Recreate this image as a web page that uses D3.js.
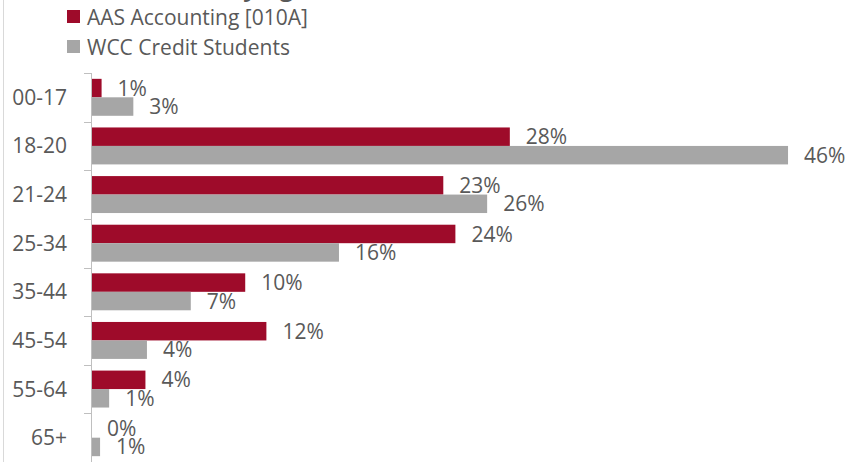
<!DOCTYPE html>
<html>
<head>
<meta charset="utf-8">
<script src="https://cdn.jsdelivr.net/npm/d3@7"></script>
<style>
  html, body { margin: 0; padding: 0; background: #fff; }
  svg { display: block; }
  text { font-family: "Open Sans", sans-serif; fill: #595959; }
</style>
</head>
<body>
<svg id="chart" width="856" height="462"></svg>
<script>
const categories = ["00-17", "18-20", "21-24", "25-34", "35-44", "45-54", "55-64", "65+"];
const seriesNames = ["AAS Accounting [010A]", "WCC Credit Students"];
const aasValues = [0.7, 27.7, 23.3, 24.1, 10.2, 11.6, 3.6, 0];
const wccValues = [2.8, 46.1, 26.2, 16.4, 6.6, 3.7, 1.2, 0.6];
const colors = ["#9E0B2A", "#A6A6A6"];
const titleText = "Students by Age";

const svg = d3.select("#chart");
const W = 856, H = 462;
const FS = "21px";

// outer chart border (left edge visible)
svg.append("line").attr("x1", 3.5).attr("x2", 3.5).attr("y1", 0).attr("y2", H)
  .attr("stroke", "#d9d9d9").attr("stroke-width", 1);

// clipped title (only descenders visible)
svg.append("text").attr("x", 115).attr("y", -4)
  .style("font-size", "24px").style("font-weight", "bold").style("fill", "#595959")
  .text(titleText);

const y = d3.scaleBand().domain(categories).range([73, 462]).paddingInner(0.24).paddingOuter(0.12);
const sub = d3.scaleBand().domain([0, 1]).range([0, y.bandwidth()]);
const x = d3.scaleLinear().domain([0, 50]).range([91, 847]);

const data = categories.map((c, i) => ({ cat: c, vals: [aasValues[i], wccValues[i]] }));

const groups = svg.append("g").selectAll("g").data(data).join("g")
  .attr("transform", d => `translate(0,${y(d.cat)})`);

groups.selectAll("rect").data(d => d.vals.map((v, k) => ({ v, k }))).join("rect")
  .attr("x", x(0))
  .attr("y", d => sub(d.k))
  .attr("width", d => x(d.v) - x(0))
  .attr("height", sub.bandwidth())
  .attr("fill", d => colors[d.k]);

groups.selectAll("text.lbl").data(d => d.vals.map((v, k) => ({ v, k }))).join("text")
  .attr("class", "lbl")
  .attr("x", d => x(d.v) + 16)
  .attr("y", d => sub(d.k) + sub.bandwidth() / 2)
  .attr("dy", "0.36em")
  .style("font-size", FS)
  .text(d => Math.round(d.v) + "%");

// axis with tick marks at category boundaries
const axisG = svg.append("g");
axisG.append("line").attr("x1", 91.5).attr("x2", 91.5).attr("y1", 73).attr("y2", H)
  .attr("stroke", "#bfbfbf");
const bounds = categories.map(c => y(c) - y.step() * y.paddingInner() / 2);
axisG.selectAll("line.tk").data(bounds).join("line").attr("class", "tk")
  .attr("x1", 84).attr("x2", 91.5)
  .attr("y1", d => Math.round(d) + 0.5).attr("y2", d => Math.round(d) + 0.5)
  .attr("stroke", "#bfbfbf");
axisG.selectAll("text.cat").data(categories).join("text").attr("class", "cat")
  .attr("x", 67).attr("y", d => y(d) + y.bandwidth() / 2)
  .attr("dy", "0.36em").attr("text-anchor", "end")
  .style("font-size", FS)
  .text(d => d);

// legend
const leg = svg.append("g");
seriesNames.forEach((name, i) => {
  const cy = 17 + i * 30;
  leg.append("rect").attr("x", 67).attr("y", cy - 7).attr("width", 13).attr("height", 13).attr("fill", colors[i]);
  leg.append("text").attr("x", 87).attr("y", cy).attr("dy", "0.36em")
    .style("font-size", FS).text(name);
});
</script>
</body>
</html>
